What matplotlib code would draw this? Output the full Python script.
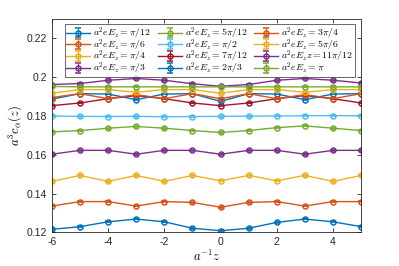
import matplotlib
matplotlib.use("Agg")
import matplotlib.pyplot as plt
from matplotlib.ticker import FormatStrFormatter

plt.rcParams['font.family'] = ['Liberation Sans', 'DejaVu Sans']
plt.rcParams['mathtext.fontset'] = 'cm'
plt.rcParams['axes.unicode_minus'] = False

# --- Data ---
z = [-6, -5, -4, -3, -2, -1, 0, 1, 2, 3, 4, 5]

labels = [
    r'$a^2eE_z=\pi/12$', r'$a^2eE_z=\pi/6$', r'$a^2eE_z=\pi/4$', r'$a^2eE_z=\pi/3$',
    r'$a^2eE_z=5\pi/12$', r'$a^2eE_z=\pi/2$', r'$a^2eE_z=7\pi/12$', r'$a^2eE_z=2\pi/3$',
    r'$a^2eE_z=3\pi/4$', r'$a^2eE_z=5\pi/6$', r'$a^2eE_z z=11\pi/12$', r'$a^2eE_z=\pi$',
]

c_pi12 = [0.1216, 0.1230, 0.1255, 0.1269, 0.1255, 0.1222, 0.1209, 0.1222, 0.1252, 0.1269, 0.1255, 0.1230]
c_pi6 = [0.1336, 0.1359, 0.1359, 0.1336, 0.1359, 0.1355, 0.1330, 0.1355, 0.1359, 0.1336, 0.1359, 0.1359]
c_pi4 = [0.1463, 0.1494, 0.1463, 0.1494, 0.1463, 0.1494, 0.1466, 0.1494, 0.1466, 0.1494, 0.1463, 0.1494]
c_pi3 = [0.1603, 0.1623, 0.1623, 0.1603, 0.1623, 0.1623, 0.1603, 0.1623, 0.1623, 0.1603, 0.1623, 0.1623]
c_5pi12 = [0.1718, 0.1725, 0.1737, 0.1746, 0.1737, 0.1725, 0.1715, 0.1725, 0.1740, 0.1749, 0.1737, 0.1725]
c_pi2 = [0.1800, 0.1798, 0.1797, 0.1798, 0.1796, 0.1797, 0.1798, 0.1799, 0.1800, 0.1801, 0.1802, 0.1801]
c_7pi12 = [0.1853, 0.1867, 0.1889, 0.1905, 0.1889, 0.1867, 0.1853, 0.1867, 0.1889, 0.1905, 0.1889, 0.1867]
c_2pi3 = [0.1887, 0.1915, 0.1913, 0.1884, 0.1913, 0.1915, 0.1875, 0.1915, 0.1913, 0.1884, 0.1913, 0.1915]
c_3pi4 = [0.1895, 0.1915, 0.1889, 0.1910, 0.1889, 0.1915, 0.1889, 0.1915, 0.1889, 0.1910, 0.1889, 0.1915]
c_5pi6 = [0.1917, 0.1936, 0.1936, 0.1922, 0.1936, 0.1936, 0.1917, 0.1936, 0.1936, 0.1922, 0.1936, 0.1936]
c_11pi12 = [0.1962, 0.1967, 0.1984, 0.1993, 0.1984, 0.1966, 0.1953, 0.1962, 0.1984, 0.1993, 0.1984, 0.1970]
c_pi = [0.1952, 0.1950, 0.1950, 0.1950, 0.1950, 0.1950, 0.1950, 0.1950, 0.1950, 0.1950, 0.1950, 0.1950]

series = [c_pi12, c_pi6, c_pi4, c_pi3, c_5pi12, c_pi2,
          c_7pi12, c_2pi3, c_3pi4, c_5pi6, c_11pi12, c_pi]
err = 0.0002  # tiny error bars

# MATLAB default colour order
colors = ['#0072BD', '#D95319', '#EDB120', '#7E2F8E', '#77AC30', '#4DBEEE', '#A2142F']

# --- Plot ---
fig = plt.figure(figsize=(3.99, 2.66), dpi=100)
ax = fig.add_axes([0.130, 0.126, 0.775, 0.803])

for i, (vals, lab) in enumerate(zip(series, labels)):
    col = colors[i % len(colors)]
    ax.errorbar(z, vals, yerr=err, color=col, marker='o', markersize=3.6,
                mfc='none', mew=1.1, lw=1.0, capsize=2, elinewidth=0.8, label=lab)

ax.set_xlim(-6, 5)
ax.set_ylim(0.12, 0.23)
ax.set_xticks([-6, -4, -2, 0, 2, 4])
ax.set_yticks([0.12, 0.14, 0.16, 0.18, 0.2, 0.22])
ax.yaxis.set_major_formatter(FormatStrFormatter('%g'))
ax.tick_params(direction='in', top=True, right=True, labelsize=7.5,
               length=3, width=0.6, colors='#262626')
for sp in ax.spines.values():
    sp.set_linewidth(0.6)
    sp.set_color('#262626')

ax.set_xlabel(r'$a^{-1}z$', fontsize=9, labelpad=1)
ax.set_ylabel(r'$a^3c_\alpha(z)$', fontsize=9, labelpad=2)

leg = ax.legend(ncol=3, loc='upper center', bbox_to_anchor=(0.51, 0.985),
                fontsize=7.0, frameon=True, fancybox=False, handlelength=2.5,
                handletextpad=0.3, columnspacing=0.7, labelspacing=-0.38,
                borderpad=0.12, borderaxespad=0.2)
leg.get_frame().set_edgecolor('#262626')
leg.get_frame().set_linewidth(0.6)

fig.savefig('out.png', dpi=100)
